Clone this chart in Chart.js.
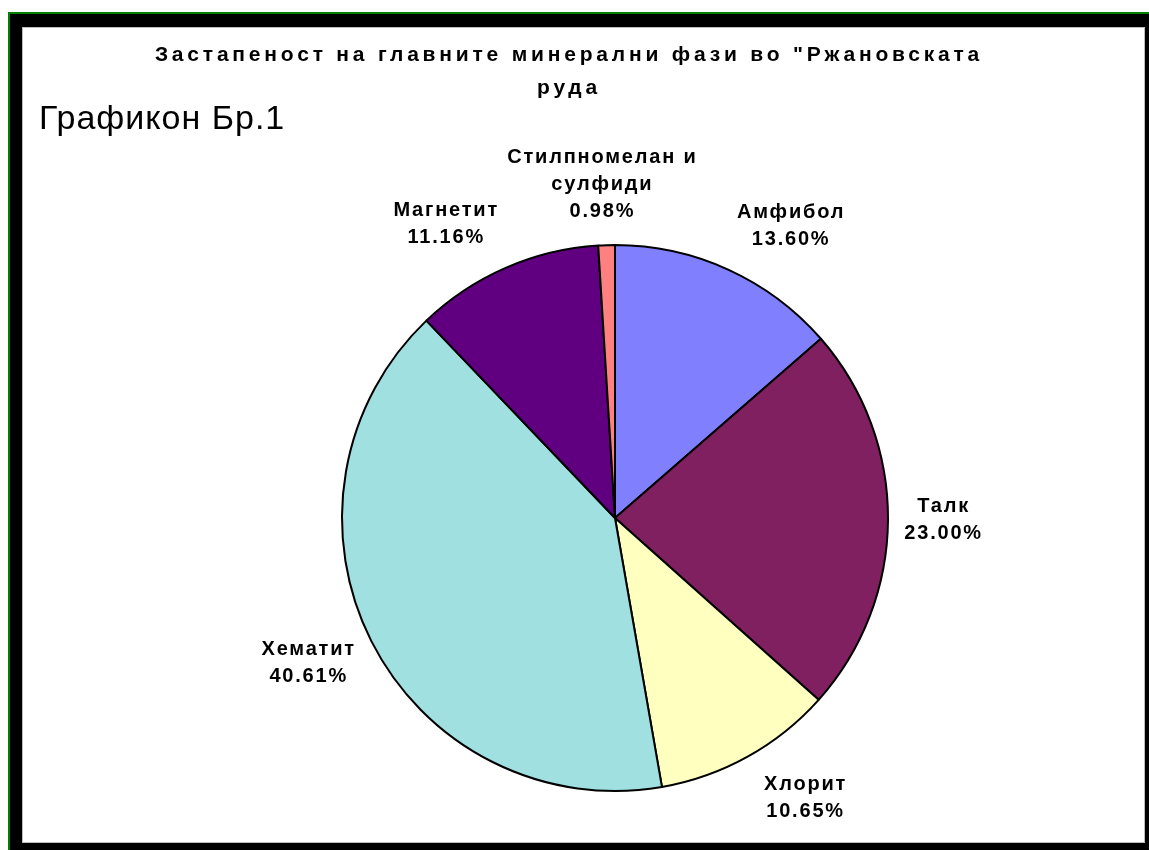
<!DOCTYPE html>
<html>
<head>
<meta charset="utf-8">
<script src="https://cdn.jsdelivr.net/npm/chart.js@4"></script>
<style>
    body { margin: 0; background: #ffffff; width: 1149px; height: 850px; overflow: hidden; position: relative; font-family: "Liberation Sans", Arial, sans-serif; }
    #frame { position: absolute; left: 8px; top: 12px; width: 1141px; height: 838px; background: #000000; border-top: 2px solid #008000; border-left: 2px solid #008000; box-sizing: border-box; }
    #plot { position: absolute; left: 22px; top: 27px; width: 1123px; height: 816px; background: #ffffff; border: 1px solid #bdbdbd; box-sizing: border-box; }
    #plot canvas { position: absolute; left: 0; top: 0; }
    #title { position: absolute; left: 0; top: 9px; width: 1092px; text-align: center; font-weight: bold; font-size: 21px; line-height: 33px; letter-spacing: 3.8px; color: #000; }
    #subtitle { position: absolute; left: 16px; top: 72px; font-size: 34px; line-height: 34px; letter-spacing: 1px; color: #000; }
</style>
</head>
<body>
<div id="frame"></div>
<div id="plot">
    <canvas id="pieChart" width="1123" height="816"></canvas>
    <div id="title">Застапеност на главните минерални фази во "Ржановската<br>руда</div>
    <div id="subtitle">Графикон Бр.1</div>
</div>
<script>
const mineralNames = ["Амфибол", "Талк", "Хлорит", "Хематит", "Магнетит", "Стилпномелан и сулфиди"];
const mineralShares = [13.60, 23.00, 10.65, 40.61, 11.16, 0.98];
const sliceColors = ["#8080ff", "#802060", "#ffffc0", "#a0e0e0", "#600080", "#ff8080"];

// splits a label into lines no wider than maxWidth
function wrapLabel(ctx, text, maxWidth) {
    const words = text.split(" ");
    const lines = [];
    let line = "";
    words.forEach(word => {
        const test = line ? line + " " + word : word;
        if (line && ctx.measureText(test).width > maxWidth) {
            lines.push(line);
            line = word;
        } else {
            line = test;
        }
    });
    if (line) lines.push(line);
    return lines;
}

// draws the "name / value%" labels outside the slices, Excel style
const outsideLabels = {
    id: "outsideLabels",
    afterDatasetsDraw(chart) {
        const ctx = chart.ctx;
        const meta = chart.getDatasetMeta(0);
        const values = chart.data.datasets[0].data;
        const lineH = 27;
        ctx.save();
        ctx.font = "bold 20px 'Liberation Sans', Arial, sans-serif";
        ctx.letterSpacing = "1.8px";
        ctx.fillStyle = "#000000";
        ctx.textAlign = "center";
        ctx.textBaseline = "middle";
        meta.data.forEach((arc, i) => {
            const p = arc.getProps(["x", "y", "startAngle", "endAngle", "outerRadius"], true);
            const mid = (p.startAngle + p.endAngle) / 2;
            const ux = Math.cos(mid);
            const uy = Math.sin(mid);
            const lines = wrapLabel(ctx, chart.data.labels[i], 210);
            lines.push(values[i].toFixed(2) + "%");
            const halfH = (lines.length - 1) * lineH / 2 + 10;
            // top labels get pushed further sideways than the bottom ones
            const k = uy < 0 ? 0.42 : 0.3;
            const cx = p.x + ux * p.outerRadius * (1.2 + k * uy * uy);
            const cy = p.y + uy * (p.outerRadius * 1.088 + halfH);
            const top = cy - (lines.length - 1) * lineH / 2;
            lines.forEach((t, n) => ctx.fillText(t, cx + 1, top + n * lineH));
        });
        ctx.restore();
    }
};

const ctx = document.getElementById("pieChart").getContext("2d");
new Chart(ctx, {
    type: "pie",
    data: {
        labels: mineralNames,
        datasets: [{
            data: mineralShares,
            backgroundColor: sliceColors,
            borderColor: "#000000",
            borderWidth: 2
        }]
    },
    options: {
        responsive: false,
        animation: false,
        layout: {
            padding: { left: 318, right: 257, top: 216, bottom: 52 }
        },
        plugins: {
            legend: { display: false },
            tooltip: { enabled: false },
            title: { display: false }
        }
    },
    plugins: [outsideLabels]
});
</script>
</body>
</html>
